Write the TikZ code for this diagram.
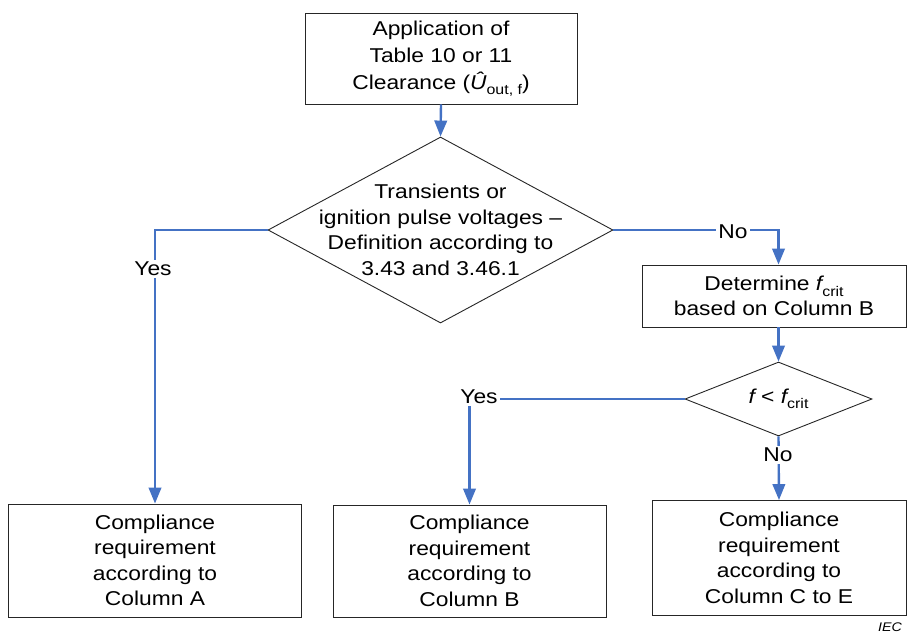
\documentclass[tikz,border=0pt]{standalone}
\usepackage{fontspec}
\setmainfont{Liberation Sans}[FakeStretch=1.14]
\usetikzlibrary{shapes.geometric,arrows.meta,calc}
\definecolor{flowblue}{HTML}{4472C4}
\newcommand{\subx}[1]{\raisebox{-0.28em}{\fontsize{14}{14}\selectfont #1}}
\begin{document}
\begin{tikzpicture}[x=1pt,y=-1pt,
  box/.style={draw=black!85, line width=0.9pt, align=center, inner sep=0pt,
    font=\fontsize{20}{25.5}\selectfont},
  dia/.style={diamond, draw=black!85, line width=0.9pt, inner sep=0pt},
  txt/.style={align=center, inner sep=0pt, font=\fontsize{20}{25.5}\selectfont},
  flow/.style={draw=flowblue, line width=2.4pt, -{Triangle[width=12.5pt,length=16pt]}},
  lbl/.style={fill=white, inner sep=2pt, font=\fontsize{20}{25.5}\selectfont}]
\useasboundingbox (0,0) rectangle (907,635);

\node[box, minimum width=272pt, minimum height=91pt, font=\fontsize{20}{27}\selectfont] (top) at (441,58.5)
  {Application of\\Table 10 or 11\\Clearance ({\itshape Û}\subx{out, f})};
\node[dia, minimum width=345pt, minimum height=186pt] (d1) at (440.5,230) {};
\node[txt] (d1t) at (d1) {Transients or\\ignition pulse voltages –\\Definition according to\\3.43 and 3.46.1};
\node[box, minimum width=264pt, minimum height=62pt] (det) at (774,296)
  {Determine {\itshape f}\subx{crit}\\based on Column B};
\node[dia, minimum width=187pt, minimum height=74pt] (d2) at (778.5,399) {};
\node[txt] (d2t) at (d2) {{\itshape f} < {\itshape f}\subx{crit}};
\node[box, minimum width=293pt, minimum height=113pt] (ca) at (155,560.5)
  {Compliance\\requirement\\according to\\Column A};
\node[box, minimum width=273pt, minimum height=112pt] (cb) at (469.5,561)
  {Compliance\\requirement\\according to\\Column B};
\node[box, minimum width=254pt, minimum height=115pt] (cc) at (779,558)
  {Compliance\\requirement\\according to\\Column C to E};
\node[font=\itshape\fontsize{12.5}{13}\selectfont, anchor=east, inner sep=0pt] (iec) at (902,627) {IEC};

\draw[flow] (top.south) -- (d1.north);
\draw[flow] (d1.west) -| (ca.north);
\node[lbl] (yes1) at (153,269) {Yes};
\draw[flow] (d1.east) -| (d2.north |- det.north);
\node[lbl] (no1) at (733,232) {No};
\draw[flow] (det.south -| d2.north) -- (d2.north);
\draw[flow] (d2.west) -| (cb.north);
\node[lbl] (yes2) at (479,397) {Yes};
\draw[flow] (d2.south) -- (cc.north);
\node[lbl] (no2) at (778,455) {No};
\end{tikzpicture}
\end{document}
